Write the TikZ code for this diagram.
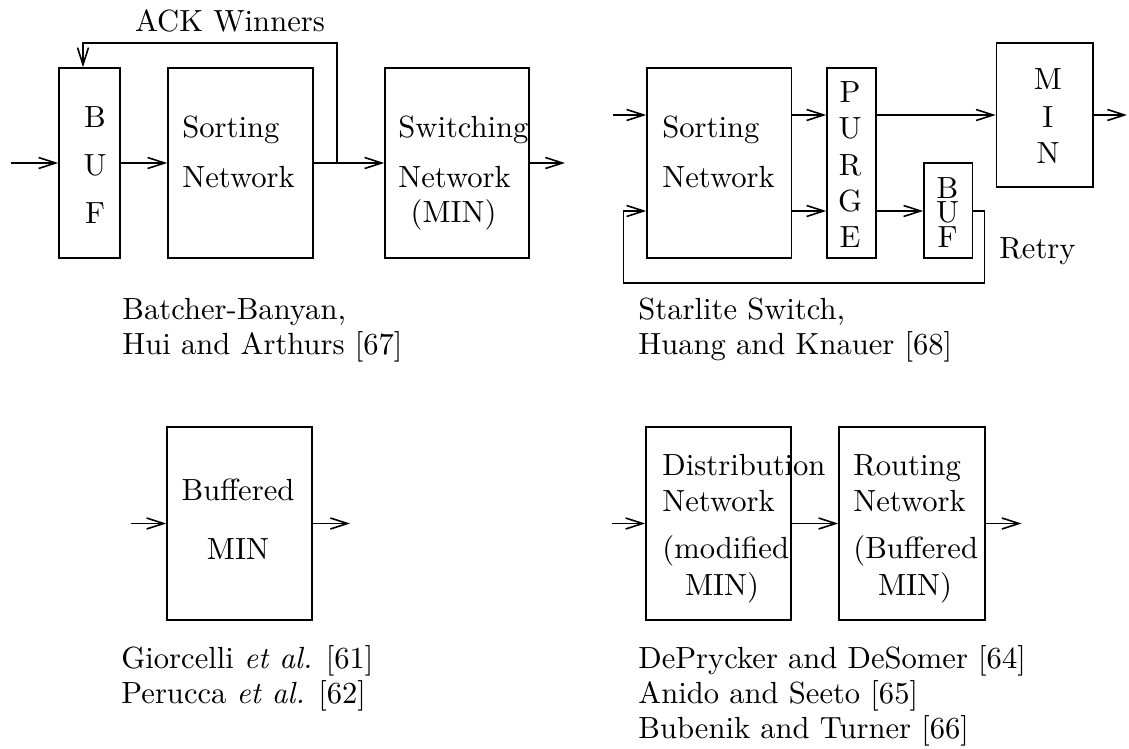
\documentclass[tikz,border=0pt]{standalone}
\usepackage{graphicx}
\usetikzlibrary{arrows.meta,fit}
% text set in the 10pt design size, enlarged
\newcommand{\T}[1]{\scalebox{1.53}{\fontsize{10}{12}\selectfont #1}}
\begin{document}
\begin{tikzpicture}[x=0.5pt,y=-0.5pt,
  box/.style={draw,line width=0.8pt,inner sep=0pt},
  arr/.style={line width=0.8pt,-{Straight Barb[length=8.5pt,width=5.5pt,line width=0.8pt]}},
  txt/.style={inner sep=0pt,anchor=base west},
  ctxt/.style={inner sep=0pt,anchor=base}]
\useasboundingbox (0,0) rectangle (1129,749);

% ---------- Batcher-Banyan ----------
\node[box,fit={(59,68) (120,258)}] (buf1) {};
\node[box,fit={(168,68) (313,258)}] (sort1) {};
\node[box,fit={(385,68) (529,258)}] (sw1) {};
\coordinate (in1) at (11,163);
\coordinate (out1) at (565,163);
\coordinate (br1) at (337,163);
\coordinate (acktop) at (83,43);
\draw[arr] (in1) -- (buf1.west);
\draw[arr] (buf1.east) -- (sort1.west);
\draw[arr] (sort1.east) -- (sw1.west);
\draw[arr] (sw1.east) -- (out1);
\draw[arr] (br1) |- (acktop) -- (acktop |- buf1.north);
\node[ctxt] (ack) at (230,32) {\T{ACK Winners}};
\node[ctxt] (b1) at (95,127) {\T{B}};
\node[ctxt] (u1) at (95,175) {\T{U}};
\node[ctxt] (f1) at (95,223) {\T{F}};
\node[txt] (s1a) at (182,138) {\T{Sorting}};
\node[txt] (s1b) at (182,187) {\T{Network}};
\node[txt] (w1a) at (398,138) {\T{Switching}};
\node[txt] (w1b) at (398,187) {\T{Network}};
\node[ctxt] (w1c) at (453.6,222) {\T{(MIN)}};
\node[txt] (cap1a) at (122,319) {\T{Batcher-Banyan,}};
\node[txt] (cap1b) at (122,354) {\T{Hui and Arthurs [67]}};

% ---------- Starlite ----------
\node[box,fit={(647,68) (791.5,258)}] (sort2) {};
\node[box,fit={(827,68) (876,258)}] (purge) {};
\node[box,fit={(996.5,43) (1093,187)}] (min2) {};
\node[box,fit={(924,163) (972.5,258)}] (buf2) {};
\coordinate (in2) at (613,115);
\coordinate (out2) at (1127,115);
\coordinate (lo) at (0,211);
\coordinate (retryR) at (984.5,283);
\coordinate (retryL) at (623.5,283);
\draw[arr] (in2) -- (in2 -| sort2.west);
\draw[arr] (sort2.east |- in2) -- (purge.west |- in2);
\draw[arr] (purge.east |- in2) -- (min2.west);
\draw[arr] (min2.east) -- (out2);
\draw[arr] (sort2.east |- lo) -- (purge.west |- lo);
\draw[arr] (purge.east |- lo) -- (buf2.west |- lo);
\draw[arr] (buf2.east |- lo) -| (retryR) -- (retryL) |- (sort2.west |- lo);
\node[txt] (s2a) at (662,138) {\T{Sorting}};
\node[txt] (s2b) at (662,187) {\T{Network}};
\node[ctxt] (p1) at (850,103) {\T{P}};
\node[ctxt] (p2) at (850,139) {\T{U}};
\node[ctxt] (p3) at (850,175) {\T{R}};
\node[ctxt] (p4) at (850,211) {\T{G}};
\node[ctxt] (p5) at (850,247) {\T{E}};
\node[ctxt] (m1) at (1048,90) {\T{M}};
\node[ctxt] (m2) at (1048,127) {\T{I}};
\node[ctxt] (m3) at (1048,163) {\T{N}};
\node[ctxt] (b2) at (947.5,198) {\T{B}};
\node[ctxt] (u2) at (947.5,222.5) {\T{U}};
\node[ctxt] (f2) at (947.5,247) {\T{F}};
\node[txt] (retry) at (999,258) {\T{Retry}};
\node[txt] (cap2a) at (638,319) {\T{Starlite Switch,}};
\node[txt] (cap2b) at (638,354) {\T{Huang and Knauer [68]}};

% ---------- Buffered MIN ----------
\node[box,fit={(167,427) (312,620)}] (bmin) {};
\coordinate (in3) at (131,523.5);
\coordinate (out3) at (350,523.5);
\draw[arr] (in3) -- (bmin.west);
\draw[arr] (bmin.east) -- (out3);
\node[ctxt] (bm1) at (238,500) {\T{Buffered}};
\node[ctxt] (bm2) at (238,559) {\T{MIN}};
\node[txt] (cap3a) at (121,668) {\T{Giorcelli \textit{et al.} [61]}};
\node[txt] (cap3b) at (121,703) {\T{Perucca \textit{et al.} [62]}};

% ---------- Distribution / Routing ----------
\node[box,fit={(646,427) (791,620)}] (dist) {};
\node[box,fit={(839,427) (985,620)}] (rout) {};
\coordinate (in4) at (612,523.5);
\coordinate (out4) at (1021.5,523.5);
\draw[arr] (in4) -- (dist.west);
\draw[arr] (dist.east) -- (rout.west);
\draw[arr] (rout.east) -- (out4);
\node[txt] (d1) at (662,475) {\T{Distribution}};
\node[txt] (d2) at (662,511) {\T{Network}};
\node[txt] (d3) at (662,558) {\T{(modified}};
\node[ctxt] (d4) at (722,595) {\T{MIN)}};
\node[txt] (r1) at (853,475) {\T{Routing}};
\node[txt] (r2) at (853,511) {\T{Network}};
\node[txt] (r3) at (853,558) {\T{(Buffered}};
\node[ctxt] (r4) at (915,595) {\T{MIN)}};
\node[txt] (cap4a) at (638,668) {\T{DePrycker and DeSomer [64]}};
\node[txt] (cap4b) at (638,703) {\T{Anido and Seeto [65]}};
\node[txt] (cap4c) at (638,738) {\T{Bubenik and Turner [66]}};
\end{tikzpicture}
\end{document}
